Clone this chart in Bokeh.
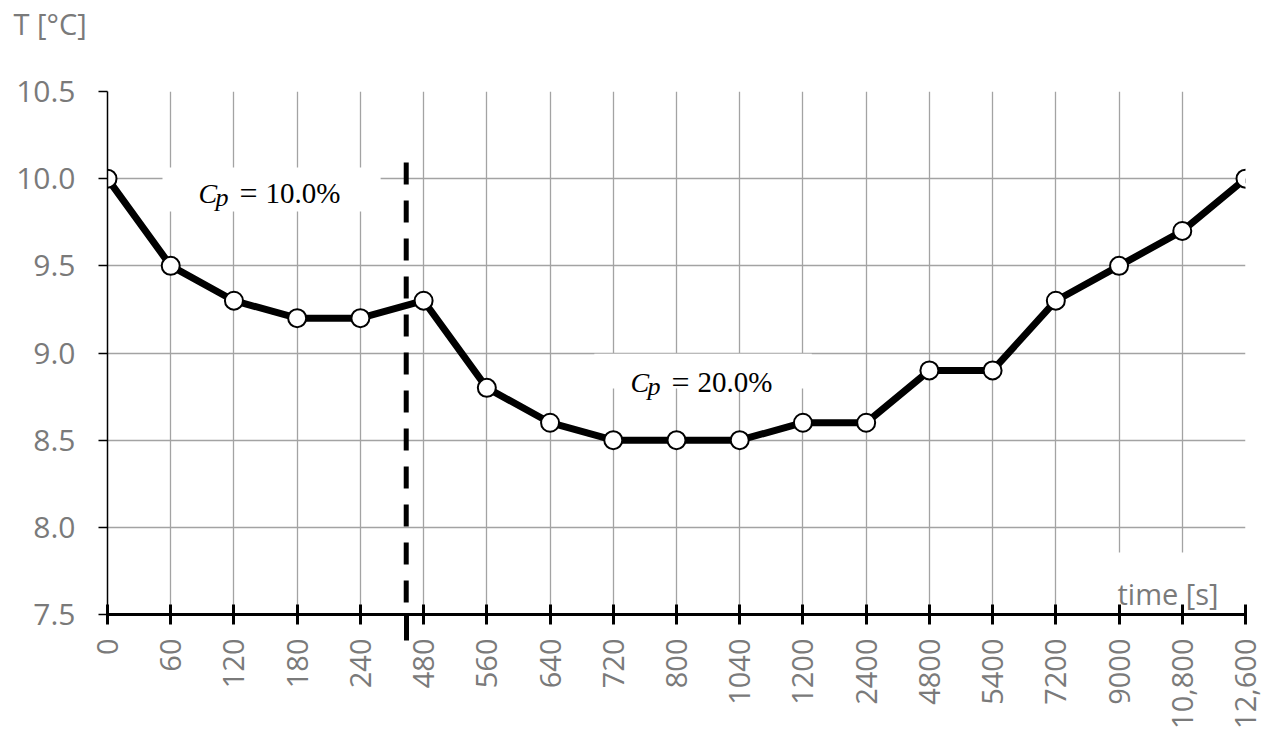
import math
from bokeh.plotting import figure
from bokeh.models import (FixedTicker, PrintfTickFormatter, Label, BoxAnnotation,
                          Arrow, ColumnDataSource, Range1d)
from bokeh.embed import file_html
from bokeh.resources import INLINE

# ---------------- data ----------------
categories = ["0", "60", "120", "180", "240", "480", "560", "640", "720", "800",
              "1040", "1200", "2400", "4800", "5400", "7200", "9000", "10,800", "12,600"]
temperature = [10.0, 9.5, 9.3, 9.2, 9.2, 9.3, 8.8, 8.6, 8.5, 8.5,
               8.5, 8.6, 8.6, 8.9, 8.9, 9.3, 9.5, 9.7, 10.0]
y_ticks = [7.5, 8.0, 8.5, 9.0, 9.5, 10.0, 10.5]
y_title = "T [°C]"
x_title = "time [s]"
annotations = ["10.0%", "20.0%"]
separator_x = 4.725   # between "240" and "480"

positions = list(range(len(categories)))
src = ColumnDataSource(dict(x=positions, y=temperature))

GRAY = "#7a7a7a"
SANS = "Open Sans"
SERIF = "Liberation Serif"

p = figure(frame_width=1138, frame_height=523,
           min_border_left=107, min_border_top=91, min_border_right=20, min_border_bottom=127,
           x_range=Range1d(0, len(categories) - 1), y_range=Range1d(y_ticks[0], y_ticks[-1]),
           output_backend="svg", toolbar_location=None, tools="")
p.outline_line_color = None
p.background_fill_color = "white"
p.border_fill_color = "white"
p.title.visible = False
p.title.standoff = 0

# y-axis caption at top-left, placed in the top side panel
p.add_layout(Label(x=-94, y=68, x_units="screen", y_units="screen", text=y_title,
                   text_font=SANS, text_font_size="29px", text_color=GRAY,
                   text_baseline="alphabetic", text_align="left"), "above")

# x axis
xa = p.xaxis[0]
xa.ticker = FixedTicker(ticks=positions, minor_ticks=[separator_x])
xa.major_label_overrides = {i: c for i, c in enumerate(categories)}
xa.major_label_orientation = math.pi / 2
xa.axis_line_width = 3
xa.axis_line_color = "black"
xa.major_tick_line_width = 3
xa.major_tick_line_color = "black"
xa.major_tick_in = 10
xa.major_tick_out = 10
# minor tick = lower end of the dashed separator (below the axis)
xa.minor_tick_line_color = "black"
xa.minor_tick_line_width = 5
xa.minor_tick_in = 0
xa.minor_tick_out = 26
xa.major_label_text_font = SANS
xa.major_label_text_font_size = "29px"
xa.major_label_text_color = GRAY
xa.major_label_standoff = -2

# y axis
ya = p.yaxis[0]
ya.ticker = FixedTicker(ticks=y_ticks)
ya.formatter = PrintfTickFormatter(format="%.1f")
ya.axis_line_width = 1.5
ya.axis_line_color = "black"
ya.major_tick_line_width = 1.5
ya.major_tick_line_color = "black"
ya.major_tick_in = 0
ya.major_tick_out = 9
ya.minor_tick_line_color = None
ya.major_label_text_font = SANS
ya.major_label_text_font_size = "30px"
ya.major_label_text_color = GRAY
ya.major_label_standoff = 23

# grids
p.xgrid.ticker = FixedTicker(ticks=positions)
p.ygrid.ticker = FixedTicker(ticks=y_ticks)
for g in (p.xgrid[0], p.ygrid[0]):
    g.grid_line_color = "#a3a3a3"
    g.grid_line_width = 1.3

# white backgrounds behind annotation texts (cover gridlines)
for (l, r, b, t) in [(0.87, 4.32, 9.812, 10.064), (7.70, 11.14, 8.796, 8.995), (15.71, 17.86, 7.5, 7.856)]:
    p.add_layout(BoxAnnotation(left=l, right=r, bottom=b, top=t, fill_color="white",
                               fill_alpha=1.0, line_color=None, level="underlay"))

# series
p.line("x", "y", source=src, line_width=7, line_color="black", line_join="round")
p.scatter("x", "y", source=src, size=18, fill_color="white", line_color="black", line_width=2)

# dashed separator
p.add_layout(Arrow(start=None, end=None, x_start=separator_x, y_start=10.093,
                   x_end=separator_x, y_end=7.5,
                   line_color="black", line_width=5, line_dash="22 16"))

# C_p labels
def cp_label(x, y, txt):
    p.add_layout(Label(x=x, y=y, text="C", text_font=SERIF, text_font_style="italic",
                       text_font_size="28px", text_color="black", text_baseline="alphabetic",
                       text_align="left"))
    p.add_layout(Label(x=x, y=y, x_offset=17, y_offset=-4, text="p", text_font=SERIF,
                       text_font_style="italic", text_font_size="26px", text_color="black",
                       text_baseline="alphabetic", text_align="left"))
    p.add_layout(Label(x=x, y=y, x_offset=50, text="=", text_font=SERIF,
                       text_font_size="32px", text_color="black", text_baseline="alphabetic",
                       text_align="center"))
    p.add_layout(Label(x=x, y=y, x_offset=67, text=txt, text_font=SERIF,
                       text_font_size="29px", text_color="black", text_baseline="alphabetic",
                       text_align="left"))

cp_label(1.439, 9.915, annotations[0])
cp_label(8.272, 8.831, annotations[1])

# x axis caption inside the plot
p.add_layout(Label(x=15.975, y=7.620, text=x_title, text_font=SANS, text_font_size="29px",
                   text_color=GRAY, text_baseline="alphabetic", text_align="left"))

open("out.html", "w").write(file_html(p, INLINE))
